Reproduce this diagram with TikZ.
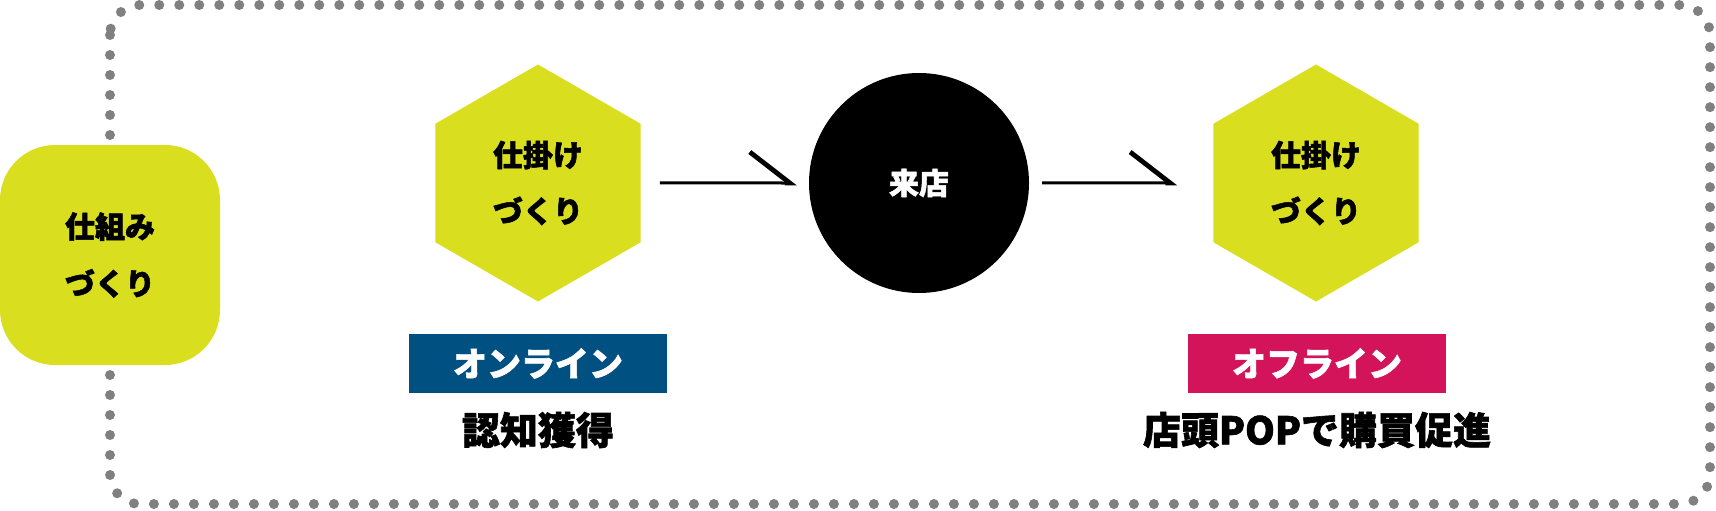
\documentclass[tikz,border=0pt]{standalone}
\usepackage{fontspec}
\setmainfont{Noto Sans CJK JP}[BoldFeatures={FakeBold=1.6}]
\usetikzlibrary{shapes.geometric,arrows.meta}

\definecolor{lime}{RGB}{217,223,31}
\definecolor{onlineblue}{RGB}{0,80,130}
\definecolor{offlinepink}{RGB}{212,20,90}
\definecolor{dotgray}{RGB}{128,128,128}

\begin{document}
\begin{tikzpicture}[x=1pt,y=-1pt]
\tikzstyle{every node}=[inner sep=0pt, align=center]
\tikzstyle{hexa}=[regular polygon, regular polygon sides=6, shape border rotate=30, minimum size=237pt, fill=lime, font=\bfseries\fontsize{30}{56}\selectfont]
\tikzstyle{tag}=[minimum width=258pt, minimum height=59pt, text=white, font=\bfseries\fontsize{34}{40}\selectfont]
\tikzstyle{goal}=[font=\bfseries\fontsize{38}{44}\selectfont]
\tikzstyle{conn}=[line width=3pt, -{Straight Barb[harpoon, length=40pt, width=62pt, line width=0pt 1.6]}]
\useasboundingbox (0,0) rectangle (1716,511);
\draw[dotgray, line width=10pt, line cap=round, dash pattern=on 0pt off 20pt, rounded corners=30pt] (110,5) rectangle (1710,504);
\node[rounded corners=55pt, fill=lime, minimum width=220pt, minimum height=220pt, font=\bfseries\fontsize{30}{57}\selectfont] (shikumi) at (110,255) {仕組み\\づくり};
\node[hexa] (hex1) at (538,183) {仕掛け\\づくり};
\node[circle, fill=black, minimum size=220pt, text=white, font=\bfseries\fontsize{30}{36}\selectfont] (raiten) at (919,183) {来店};
\node[hexa] (hex2) at (1316,183) {仕掛け\\づくり};
\draw[conn, shorten <=19pt, shorten >=12pt] (hex1) -- (raiten);
\draw[conn, shorten <=13pt, shorten >=36pt] (raiten) -- (hex2);
\node[tag, fill=onlineblue] (online) at (538,363.5) {オンライン};
\node[goal] (ninchi) at (538,430) {認知獲得};
\node[tag, fill=offlinepink] (offline) at (1317,363.5) {オフライン};
\node[goal] (tento) at (1317,430) {店頭POPで購買促進};
\end{tikzpicture}
\end{document}
